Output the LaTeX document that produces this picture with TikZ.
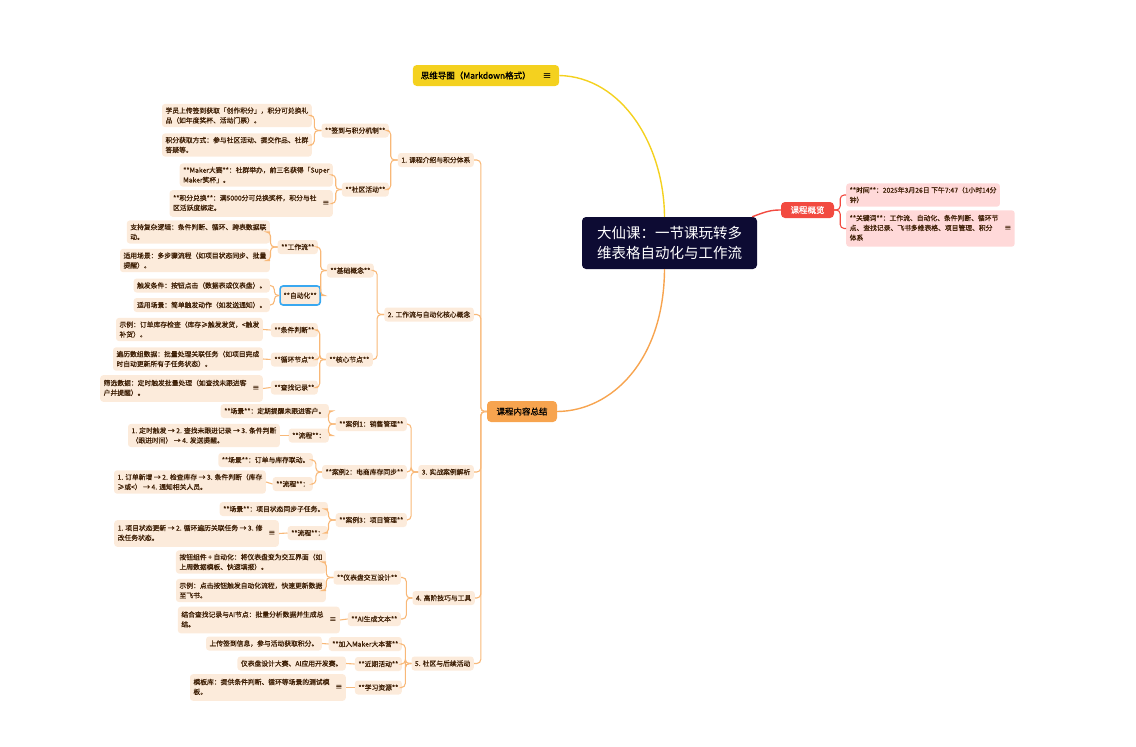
\documentclass[tikz,border=0pt]{standalone}
\usepackage{fontspec}
\setmainfont{Noto Sans CJK SC}
\newfontfamily\mapfont[FakeBold=0.6]{Noto Sans CJK SC}
\usetikzlibrary{calc}

\definecolor{mdyellow}{HTML}{F4D11F}
\definecolor{rootnavy}{HTML}{0D0B33}
\definecolor{ovred}{HTML}{F24A40}
\definecolor{ovpink}{HTML}{FFD9D9}
\definecolor{sumorange}{HTML}{F7A44F}
\definecolor{peach}{HTML}{FCEBDB}
\definecolor{linkorange}{HTML}{F8B878}
\definecolor{inkbrown}{HTML}{3E1F05}
\definecolor{selblue}{HTML}{3AA8F0}

% text lines with the note mark on the right
\newcommand{\withnote}[1]{\begin{tabular}{@{}l@{}}#1\end{tabular}\hspace{6pt}≡}

\begin{document}
\begin{tikzpicture}[x=1pt, y=-1pt,
        every node/.style={font=\mapfont\fontsize{6.8}{9.8}\selectfont, text=inkbrown},
        topic/.style={fill=peach, rounded corners=3pt, inner xsep=3.5pt, inner ysep=3.5pt, minimum height=14pt, anchor=east},
        leaf/.style={topic, align=left},
        link/.style={draw=linkorange, line width=1.1pt, rounded corners=4pt},
        redlink/.style={draw=ovred, line width=1.1pt, rounded corners=4pt},
        pinkbox/.style={fill=ovpink, rounded corners=3pt, inner xsep=3.5pt, inner ysep=3.5pt, anchor=west},
        pinkleaf/.style={pinkbox, align=left}]
    \useasboundingbox (0,0) rectangle (1136,747);
    % \draw[help lines, step=50] (0,0) grid (1136,747);

    % main topics
    \node[fill=rootnavy, text=white, rounded corners=4pt, align=center, minimum width=175pt, minimum height=52pt,
          font=\rmfamily\fontsize{14.5}{20}\selectfont] (root) at (669.5,243) {大仙课：一节课玩转多\\维表格自动化与工作流};
    \node[fill=mdyellow, text=black, rounded corners=4pt, inner xsep=8pt, minimum height=21pt,
          font=\mapfont\fontsize{8.5}{10}\selectfont] (md) at (486,75.5) {思维导图（Markdown格式）\hspace{12pt}≡};
    \node[fill=sumorange, text=black, rounded corners=4pt, minimum width=70pt, minimum height=21pt,
          font=\mapfont\fontsize{8.5}{10}\selectfont] (sum) at (522,411.5) {课程内容总结};
    \node[fill=ovred, text=white, rounded corners=4pt, minimum width=53pt, minimum height=16pt,
          font=\mapfont\fontsize{8.5}{10}\selectfont] (ov) at (807.5,210) {课程概览};

    \draw[mdyellow, line width=1.4pt] (md.east) .. controls (622,77) and (664,145) .. ([xshift=-5pt]root.north);
    \draw[sumorange, line width=1.4pt] ([xshift=-5pt]root.south) .. controls (664,360) and (612,411) .. (sum.east);
    \draw[ovred, line width=1.4pt] ([xshift=-5pt]root.north east) .. controls (767,211) and (772,210) .. (ov.west);

    % overview
    \node[pinkleaf] (ov1) at (846,195) {**时间**：2025年3月26日 下午7:47（1小时14分\\钟）};
    \node[pinkbox] (ov2) at (846,228.5) {\withnote{**关键词**：工作流、自动化、条件判断、循环节\\点、查找记录、飞书多维表格、项目管理、积分\\体系}};
    \draw[redlink] (ov.east) -- ++(6,0) |- (ov1.west);
    \draw[redlink] (ov.east) -- ++(6,0) |- (ov2.west);

    % level 1
    \node[topic] (n1) at (474,160) {1. 课程介绍与积分体系};
    \node[topic] (n2) at (474,314.5) {2. 工作流与自动化核心概念};
    \node[topic] (n3) at (474,472) {3. 实战案例解析};
    \node[topic] (n4) at (475,598) {4. 高阶技巧与工具};
    \node[topic] (n5) at (474,663.5) {5. 社区与后续活动};
    \foreach \n in {n1,n2,n3,n4,n5}
        \draw[link] (sum.west) -- ++(-6,0) |- (\n.east);

    % 1
    \node[topic] (n1a) at (389,130.5) {**签到与积分机制**};
    \node[topic] (n1b) at (389,189.5) {**社区活动**};
    \node[leaf] (n1a1) at (312,115.5) {学员上传签到获取「创作积分」，积分可兑换礼\\品（如年度奖杯、活动门票）。};
    \node[leaf] (n1a2) at (312,145) {积分获取方式：参与社区活动、提交作品、社群\\答疑等。};
    \node[leaf] (n1b1) at (333,175) {**Maker大赛**：社群举办，前三名获得「Super\\Maker奖杯」。};
    \node[topic] (n1b2) at (333,203.5) {\withnote{**积分兑换**：满5000分可兑换奖杯，积分与社\\区活跃度绑定。}};
    \foreach \n in {n1a,n1b}
        \draw[link] (n1.west) -- ++(-7,0) |- (\n.east);
    \foreach \n in {n1a1,n1a2}
        \draw[link] (n1a.west) -- ++(-7,0) |- (\n.east);
    \foreach \n in {n1b1,n1b2}
        \draw[link] (n1b.west) -- ++(-6,0) |- (\n.east);

    % 2
    \node[topic] (n2a) at (374,270.5) {**基础概念**};
    \node[topic] (n2b) at (373,359.5) {**核心节点**};
    \node[topic] (n2a1) at (318,247) {**工作流**};
    \node[topic, draw=selblue, line width=1.6pt, minimum height=19pt] (n2a2) at (321,295.5) {**自动化**};
    \node[leaf] (n2a1a) at (270,232) {支持复杂逻辑：条件判断、循环、跨表数据联\\动。};
    \node[leaf] (n2a1b) at (270,260.5) {适用场景：多步骤流程（如项目状态同步、批量\\提醒）。};
    \node[topic] (n2a2a) at (270,285.5) {触发条件：按钮点击（数据表或仪表盘）。};
    \node[topic] (n2a2b) at (270,305) {适用场景：简单触发动作（如发送通知）。};
    \node[topic] (n2b1) at (318,330) {**条件判断**};
    \node[topic] (n2b2) at (318,359.5) {**循环节点**};
    \node[topic] (n2b3) at (318,387.5) {**查找记录**};
    \node[leaf] (n2b1a) at (263,329.5) {示例：订单库存检查（库存≥触发发货，<触发\\补货）。};
    \node[leaf] (n2b2a) at (263,359) {遍历数组数据：批量处理关联任务（如项目完成\\时自动更新所有子任务状态）。};
    \node[topic] (n2b3a) at (263,388.5) {\withnote{筛选数据：定时触发批量处理（如查找未跟进客\\户并提醒）。}};
    \foreach \n in {n2a,n2b}
        \draw[link] (n2.west) -- ++(-7,0) |- (\n.east);
    \foreach \n in {n2a1,n2a2}
        \draw[link] (n2a.west) -- ++(-6,0) |- (\n.east);
    \foreach \n in {n2a1a,n2a1b}
        \draw[link] (n2a1.west) -- ++(-7,0) |- (\n.east);
    \foreach \n in {n2a2a,n2a2b}
        \draw[link] (n2a2.west) -- ++(-5,0) |- (\n.east);
    \foreach \n in {n2b1,n2b2,n2b3}
        \draw[link] (n2b.west) -- ++(-6,0) |- (\n.east);
    \draw[link] (n2b1.west) -- (n2b1a.east);
    \draw[link] (n2b2.west) -- (n2b2a.east);
    \draw[link] (n2b3.west) -- (n2b3a.east);

    % 3
    \node[topic] (n3a) at (407,424) {**案例1：销售管理**};
    \node[topic] (n3b) at (407,472) {**案例2：电商库存同步**};
    \node[topic] (n3c) at (407,520) {**案例3：项目管理**};
    \node[topic] (n3a1) at (329,411) {**场景**：定期提醒未跟进客户。};
    \node[topic] (n3a2) at (329,435.5) {**流程**：};
    \node[leaf] (n3a2a) at (280,435.5) {1. 定时触发 → 2. 查找未跟进记录 → 3. 条件判断\\（跟进时间） → 4. 发送提醒。};
    \node[topic] (n3b1) at (313,460) {**场景**：订单与库存联动。};
    \node[topic] (n3b2) at (313,484) {**流程**：};
    \node[leaf] (n3b2a) at (266,482) {1. 订单新增 → 2. 检查库存 → 3. 条件判断（库存\\≥或<） → 4. 通知相关人员。};
    \node[topic] (n3c1) at (328,509) {**场景**：项目状态同步子任务。};
    \node[topic] (n3c2) at (328,533) {**流程**：};
    \node[topic] (n3c2a) at (279,533.5) {\withnote{1. 项目状态更新 → 2. 循环遍历关联任务 → 3. 修\\改任务状态。}};
    \foreach \n in {n3a,n3b,n3c}
        \draw[link] (n3.west) -- ++(-7,0) |- (\n.east);
    \foreach \n in {n3a1,n3a2}
        \draw[link] (n3a.west) -- ++(-7,0) |- (\n.east);
    \foreach \n in {n3b1,n3b2}
        \draw[link] (n3b.west) -- ++(-6,0) |- (\n.east);
    \foreach \n in {n3c1,n3c2}
        \draw[link] (n3c.west) -- ++(-7,0) |- (\n.east);
    \draw[link] (n3a2.west) -- (n3a2a.east);
    \draw[link] (n3b2.west) -- (n3b2a.east);
    \draw[link] (n3c2.west) -- (n3c2a.east);

    % 4
    \node[topic] (n4a) at (401,577.5) {**仪表盘交互设计**};
    \node[topic] (n4b) at (401,619) {**AI生成文本**};
    \node[leaf] (n4a1) at (326,562) {按钮组件 + 自动化：将仪表盘变为交互界面（如\\上周数据模板、快速填报）。};
    \node[leaf] (n4a2) at (326,590.5) {示例：点击按钮触发自动化流程，快速更新数据\\至飞书。};
    \node[topic] (n4b1) at (340,620) {\withnote{结合查找记录与AI节点：批量分析数据并生成总\\结。}};
    \foreach \n in {n4a,n4b}
        \draw[link] (n4.west) -- ++(-6,0) |- (\n.east);
    \foreach \n in {n4a1,n4a2}
        \draw[link] (n4a.west) -- ++(-7,0) |- (\n.east);
    \draw[link] (n4b.west) -- (n4b1.east);

    % 5
    \node[topic] (n5a) at (402,644) {**加入Maker大本营**};
    \node[topic] (n5b) at (402,664) {**近期活动**};
    \node[topic] (n5c) at (402,687.5) {**学习资源**};
    \node[topic] (n5a1) at (322,643.5) {上传签到信息，参与活动获取积分。};
    \node[topic] (n5b1) at (346,663.5) {仪表盘设计大赛、AI应用开发赛。};
    \node[topic] (n5c1) at (346,687.5) {\withnote{模板库：提供条件判断、循环等场景的测试模\\板。}};
    \foreach \n in {n5a,n5b,n5c}
        \draw[link] (n5.west) -- ++(-6,0) |- (\n.east);
    \draw[link] (n5a.west) -- (n5a1.east);
    \draw[link] (n5b.west) -- (n5b1.east);
    \draw[link] (n5c.west) -- (n5c1.east);
\end{tikzpicture}
\end{document}
